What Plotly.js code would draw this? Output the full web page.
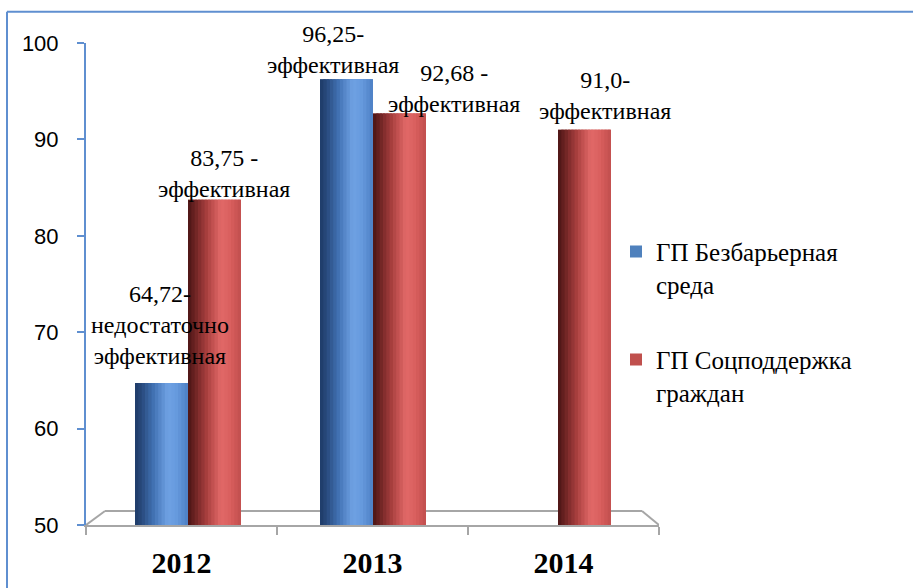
<!DOCTYPE html>
<html><head><meta charset="utf-8">
<script src="https://cdn.plot.ly/plotly-3.0.1.min.js"></script>
</head><body style="margin:0"><div id="chart"></div>
<script>
// ---- data ----
const categories = ['2012', '2013', '2014'];
const seriesNames = ['ГП Безбарьерная<br>среда', 'ГП Соцподдержка<br>граждан'];
const barrierFree = [64.72, 96.25, null];
const socialSupport = [83.75, 92.68, 91.0];
const barrierFreeLabels = ['64,72-<br>недостаточно<br>эффективная', '96,25-<br>эффективная', null];
const socialSupportLabels = ['83,75 -<br>эффективная', '92,68 -<br>эффективная', '91,0-<br>эффективная'];
const yTicks = [50, 60, 70, 80, 90, 100];

// ---- geometry / style ----
const SERIF = 'Times New Roman';
const L = 86, R = 659, T = 43.3, B = 525, W = 913, H = 588;
const unit = 185;                       // px per category
const xLeft = (L - 188) / unit;
const xRange = [xLeft, xLeft + (R - L) / unit];
const bw = 53 / unit;                   // bar width (category units)
const pxX = p => (p - L) / (R - L);     // pixel -> paper
const pxY = p => (B - p) / (B - T);

const series = [
  {name: seriesNames[0], y: barrierFree, labels: barrierFreeLabels, off: -bw, base: '#4f81bd',
   stops: [[0,'#1d3a66'],[0.12,'#28497c'],[0.35,'#4272b4'],[0.62,'#6fa2e4'],[0.8,'#6599dc'],[1,'#4c7fc4']],
   labelShift: [[-1.5, 57.7], [-13.5, 30], null]},
  {name: seriesNames[1], y: socialSupport, labels: socialSupportLabels, off: 0, base: '#c0504d',
   stops: [[0,'#4a1414'],[0.12,'#6a2222'],[0.35,'#a83f3e'],[0.62,'#e26968'],[0.8,'#d95f5e'],[1,'#c04e4d']],
   labelShift: [[9, 26.4], [54.5, 24.9], [20.5, 34.6]]}
];

function hex(c){return [parseInt(c.slice(1,3),16),parseInt(c.slice(3,5),16),parseInt(c.slice(5,7),16)];}
function interp(stops, t){
  for (let k = 1; k < stops.length; k++) {
    if (t <= stops[k][0]) {
      const [t0, c0] = stops[k-1], [t1, c1] = stops[k];
      const f = (t - t0) / (t1 - t0), a = hex(c0), b = hex(c1);
      return 'rgb(' + a.map((v, j) => Math.round(v + (b[j] - v) * f)).join(',') + ')';
    }
  }
  return stops[stops.length-1][1];
}

const traces = [];
const N = 16;
series.forEach((s, si) => {
  traces.push({type: 'bar', x: categories, y: s.y, name: s.name, offset: s.off, width: bw,
    marker: {color: s.base, line: {width: 0}}, legendgroup: 'g' + si, hoverinfo: 'skip'});
  for (let i = 0; i < N; i++) {
    traces.push({type: 'bar', x: categories, y: s.y, showlegend: false, hoverinfo: 'skip',
      offset: s.off + i * bw / N, width: Math.min(1.7, N - i) * bw / N,
      marker: {color: interp(s.stops, (i + 0.5) / N), line: {width: 0}}});
  }
});
// carrier for the front floor axis with category labels
traces.push({type: 'scatter', x: [0, 1, 2], y: [50, 50, 50], xaxis: 'x2', mode: 'none',
  showlegend: false, hoverinfo: 'skip'});

const annotations = [];
series.forEach(s => {
  s.y.forEach((v, i) => {
    if (v === null || !s.labels[i]) return;
    const sh = s.labelShift[i];
    annotations.push({x: i + s.off + bw / 2, y: v, xref: 'x', yref: 'y', text: s.labels[i],
      showarrow: false, xanchor: 'center', yanchor: 'middle', xshift: sh[0], yshift: sh[1],
      font: {family: SERIF, size: 24, color: '#000'}});
  });
});

const floorBackY = 50 + (B - 511) / ((B - T) / 50);
const grey = '#a6a6a6';
const shapes = [
  {type: 'line', xref: 'x2', yref: 'y', x0: -0.5, y0: 50, x1: -0.4005, y1: floorBackY, line: {color: grey, width: 2}, layer: 'below'},
  {type: 'line', xref: 'x2', yref: 'y', x0: -0.4005, y0: floorBackY, x1: 2.411, y1: floorBackY, line: {color: grey, width: 2}, layer: 'below'},
  {type: 'line', xref: 'x2', yref: 'y', x0: 2.411, y0: floorBackY, x1: 2.5, y1: 50, line: {color: grey, width: 2}, layer: 'below'},
  // outer frame
  {type: 'line', xref: 'paper', yref: 'paper', x0: pxX(7), y0: pxY(12), x1: pxX(7), y1: pxY(H + 5), line: {color: '#5f8fd0', width: 2}},
  {type: 'line', xref: 'paper', yref: 'paper', x0: pxX(7), y0: pxY(12), x1: pxX(W + 5), y1: pxY(12), line: {color: '#5f8fd0', width: 2}}
];

const layout = {
  width: W, height: H,
  margin: {l: L, r: W - R, t: T, b: H - B, pad: 0},
  paper_bgcolor: '#fff', plot_bgcolor: 'rgba(0,0,0,0)',
  barmode: 'overlay',
  showlegend: true,
  xaxis: {type: 'category', range: xRange, showticklabels: false, ticks: '', showline: false,
    showgrid: false, zeroline: false, fixedrange: true},
  xaxis2: {overlaying: 'x', anchor: 'y', side: 'bottom', type: 'linear', range: [-0.5, 2.5],
    tickvals: [0, 1, 2], ticktext: categories.map(c => '<b>' + c + '</b>'), ticks: '', showgrid: false, zeroline: false,
    showline: true, linecolor: grey, linewidth: 2, ticklabelstandoff: 10,
    tickfont: {family: SERIF, size: 30, color: '#000'},
    minor: {tickvals: [-0.5, 0.5, 1.5, 2.5], ticks: 'outside', ticklen: 8, tickwidth: 2, tickcolor: grey, showgrid: false}},
  yaxis: {range: [50, 100], tickvals: yTicks, ticks: 'outside', ticklen: 7, tickwidth: 2,
    tickcolor: '#5f8fd0', showline: true, linecolor: '#5f8fd0', linewidth: 2, showgrid: false,
    zeroline: false, ticklabelstandoff: 14,
    tickfont: {family: 'Liberation Sans', size: 22, color: '#000'}},
  legend: {x: pxX(616), xanchor: 'left', y: pxY(229), yanchor: 'top', bgcolor: 'rgba(0,0,0,0)',
    font: {family: SERIF, size: 25, color: '#000'}, traceorder: 'grouped',
    tracegroupgap: 40, valign: 'top'},
  annotations: annotations,
  shapes: shapes
};

Plotly.newPlot('chart', traces, layout, {displayModeBar: false, staticPlot: true});
</script>
</body></html>
